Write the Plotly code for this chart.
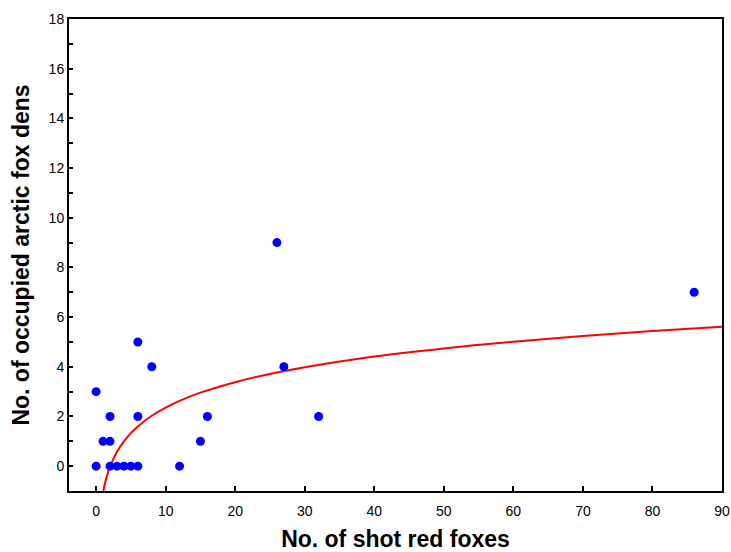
import plotly.graph_objects as go

# Observed data
shot_red_foxes = [0, 0, 1, 2, 2, 2, 3, 4, 5, 6, 6, 6, 8, 12, 15, 16, 26, 27, 32, 86]
occupied_dens = [0, 3, 1, 1, 2, 0, 0, 0, 0, 0, 2, 5, 4, 0, 1, 2, 9, 4, 2, 7]

# Fitted curve, points
curve_x = [1.04, 1.25, 1.5, 2, 3, 4, 5, 6, 8, 10, 12, 15, 20, 25, 30, 40, 50, 60, 70, 80, 90]
curve_y = [-0.99, -0.72, -0.45, -0.02, 0.58, 1.00, 1.33, 1.60, 2.03, 2.36, 2.63, 2.96,
           3.38, 3.71, 3.98, 4.41, 4.74, 5.01, 5.24, 5.44, 5.61]

x_ticks = [0, 10, 20, 30, 40, 50, 60, 70, 80, 90]
y_ticks = [0, 2, 4, 6, 8, 10, 12, 14, 16, 18]
y_minor = [1, 3, 5, 7, 9, 11, 13, 15, 17]

fig = go.Figure()
fig.add_trace(go.Scatter(x=curve_x, y=curve_y, mode="lines",
                         line=dict(color="#ff0000", width=2, shape="spline"),
                         showlegend=False, hoverinfo="skip", cliponaxis=True))
fig.add_trace(go.Scatter(x=shot_red_foxes, y=occupied_dens, mode="markers",
                         marker=dict(color="#0000ff", size=9, line=dict(width=0)),
                         showlegend=False))

font_family = "Liberation Sans, Arial, sans-serif"
fig.update_layout(
    width=731, height=552,
    margin=dict(l=69, r=9, t=19, b=61),
    paper_bgcolor="white", plot_bgcolor="white",
    font=dict(family=font_family, size=14, color="black"),
    xaxis=dict(range=[-3.9, 90], tickvals=x_ticks, ticks="inside", ticklen=5,
               tickwidth=1.5, tickcolor="black", showgrid=False, zeroline=False,
               showline=True, linecolor="black", linewidth=2, mirror=True,
               tickfont=dict(size=14), ticklabelstandoff=6, automargin=False,
               title=dict(text="<b>No. of shot red foxes</b>",
                          font=dict(size=23), standoff=15)),
    yaxis=dict(range=[-1, 18], tickvals=y_ticks, ticks="inside", ticklen=4,
               tickwidth=1.5, tickcolor="black", showgrid=False, zeroline=False,
               showline=True, linecolor="black", linewidth=2, mirror=True,
               tickfont=dict(size=14), automargin=False,
               minor=dict(tickvals=y_minor, ticks="inside",
                          ticklen=4, tickcolor="black", tickwidth=1.5),
               title=dict(text="<b>No. of occupied arctic fox dens</b>",
                          font=dict(size=23), standoff=13)),
)

fig.write_html("out.html")
